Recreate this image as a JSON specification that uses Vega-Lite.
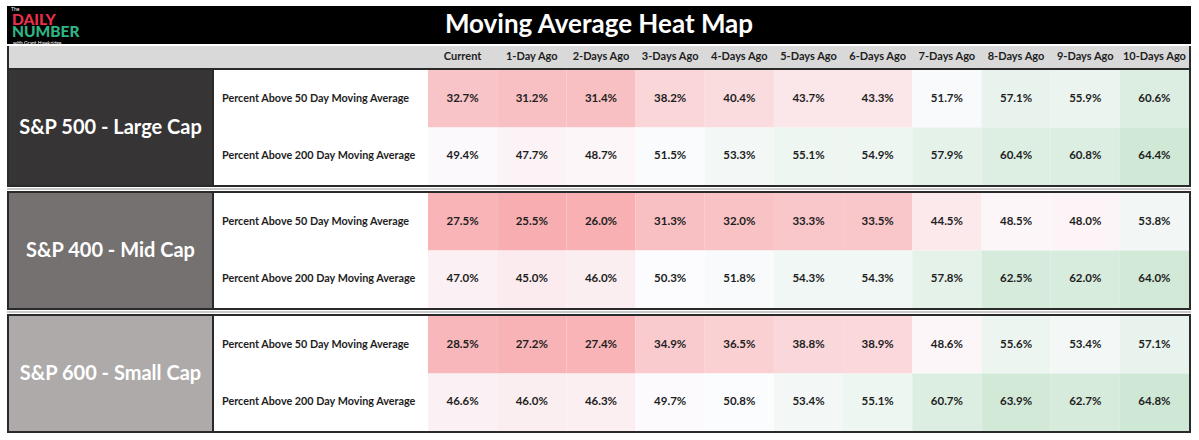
{
  "$schema": "https://vega.github.io/schema/vega-lite/v6.json",
  "padding": {"left": 7, "top": 6, "right": 8, "bottom": 6},
  "background": "white",
  "spacing": 0,
  "config": {"view": {"stroke": null}, "concat": {"spacing": 0}, "font": "Lato"},
  "datasets": {
    "blank": [{"k": 1}],
    "groups": [{"group": "S&P 500 - Large Cap"}, {"group": "S&P 400 - Mid Cap"}, {"group": "S&P 600 - Small Cap"}],
    "cells": [
      {"g": "S&P 500 - Large Cap", "m": "Percent Above 50 Day Moving Average", "p": "Current", "v": 0.327},
      {"g": "S&P 500 - Large Cap", "m": "Percent Above 50 Day Moving Average", "p": "1-Day Ago", "v": 0.312},
      {"g": "S&P 500 - Large Cap", "m": "Percent Above 50 Day Moving Average", "p": "2-Days Ago", "v": 0.314},
      {"g": "S&P 500 - Large Cap", "m": "Percent Above 50 Day Moving Average", "p": "3-Days Ago", "v": 0.382},
      {"g": "S&P 500 - Large Cap", "m": "Percent Above 50 Day Moving Average", "p": "4-Days Ago", "v": 0.404},
      {"g": "S&P 500 - Large Cap", "m": "Percent Above 50 Day Moving Average", "p": "5-Days Ago", "v": 0.437},
      {"g": "S&P 500 - Large Cap", "m": "Percent Above 50 Day Moving Average", "p": "6-Days Ago", "v": 0.433},
      {"g": "S&P 500 - Large Cap", "m": "Percent Above 50 Day Moving Average", "p": "7-Days Ago", "v": 0.517},
      {"g": "S&P 500 - Large Cap", "m": "Percent Above 50 Day Moving Average", "p": "8-Days Ago", "v": 0.571},
      {"g": "S&P 500 - Large Cap", "m": "Percent Above 50 Day Moving Average", "p": "9-Days Ago", "v": 0.559},
      {"g": "S&P 500 - Large Cap", "m": "Percent Above 50 Day Moving Average", "p": "10-Days Ago", "v": 0.606},
      {"g": "S&P 500 - Large Cap", "m": "Percent Above 200 Day Moving Average", "p": "Current", "v": 0.494},
      {"g": "S&P 500 - Large Cap", "m": "Percent Above 200 Day Moving Average", "p": "1-Day Ago", "v": 0.477},
      {"g": "S&P 500 - Large Cap", "m": "Percent Above 200 Day Moving Average", "p": "2-Days Ago", "v": 0.487},
      {"g": "S&P 500 - Large Cap", "m": "Percent Above 200 Day Moving Average", "p": "3-Days Ago", "v": 0.515},
      {"g": "S&P 500 - Large Cap", "m": "Percent Above 200 Day Moving Average", "p": "4-Days Ago", "v": 0.533},
      {"g": "S&P 500 - Large Cap", "m": "Percent Above 200 Day Moving Average", "p": "5-Days Ago", "v": 0.551},
      {"g": "S&P 500 - Large Cap", "m": "Percent Above 200 Day Moving Average", "p": "6-Days Ago", "v": 0.549},
      {"g": "S&P 500 - Large Cap", "m": "Percent Above 200 Day Moving Average", "p": "7-Days Ago", "v": 0.579},
      {"g": "S&P 500 - Large Cap", "m": "Percent Above 200 Day Moving Average", "p": "8-Days Ago", "v": 0.604},
      {"g": "S&P 500 - Large Cap", "m": "Percent Above 200 Day Moving Average", "p": "9-Days Ago", "v": 0.608},
      {"g": "S&P 500 - Large Cap", "m": "Percent Above 200 Day Moving Average", "p": "10-Days Ago", "v": 0.644},
      {"g": "S&P 400 - Mid Cap", "m": "Percent Above 50 Day Moving Average", "p": "Current", "v": 0.275},
      {"g": "S&P 400 - Mid Cap", "m": "Percent Above 50 Day Moving Average", "p": "1-Day Ago", "v": 0.255},
      {"g": "S&P 400 - Mid Cap", "m": "Percent Above 50 Day Moving Average", "p": "2-Days Ago", "v": 0.260},
      {"g": "S&P 400 - Mid Cap", "m": "Percent Above 50 Day Moving Average", "p": "3-Days Ago", "v": 0.313},
      {"g": "S&P 400 - Mid Cap", "m": "Percent Above 50 Day Moving Average", "p": "4-Days Ago", "v": 0.320},
      {"g": "S&P 400 - Mid Cap", "m": "Percent Above 50 Day Moving Average", "p": "5-Days Ago", "v": 0.333},
      {"g": "S&P 400 - Mid Cap", "m": "Percent Above 50 Day Moving Average", "p": "6-Days Ago", "v": 0.335},
      {"g": "S&P 400 - Mid Cap", "m": "Percent Above 50 Day Moving Average", "p": "7-Days Ago", "v": 0.445},
      {"g": "S&P 400 - Mid Cap", "m": "Percent Above 50 Day Moving Average", "p": "8-Days Ago", "v": 0.485},
      {"g": "S&P 400 - Mid Cap", "m": "Percent Above 50 Day Moving Average", "p": "9-Days Ago", "v": 0.480},
      {"g": "S&P 400 - Mid Cap", "m": "Percent Above 50 Day Moving Average", "p": "10-Days Ago", "v": 0.538},
      {"g": "S&P 400 - Mid Cap", "m": "Percent Above 200 Day Moving Average", "p": "Current", "v": 0.470},
      {"g": "S&P 400 - Mid Cap", "m": "Percent Above 200 Day Moving Average", "p": "1-Day Ago", "v": 0.450},
      {"g": "S&P 400 - Mid Cap", "m": "Percent Above 200 Day Moving Average", "p": "2-Days Ago", "v": 0.460},
      {"g": "S&P 400 - Mid Cap", "m": "Percent Above 200 Day Moving Average", "p": "3-Days Ago", "v": 0.503},
      {"g": "S&P 400 - Mid Cap", "m": "Percent Above 200 Day Moving Average", "p": "4-Days Ago", "v": 0.518},
      {"g": "S&P 400 - Mid Cap", "m": "Percent Above 200 Day Moving Average", "p": "5-Days Ago", "v": 0.543},
      {"g": "S&P 400 - Mid Cap", "m": "Percent Above 200 Day Moving Average", "p": "6-Days Ago", "v": 0.543},
      {"g": "S&P 400 - Mid Cap", "m": "Percent Above 200 Day Moving Average", "p": "7-Days Ago", "v": 0.578},
      {"g": "S&P 400 - Mid Cap", "m": "Percent Above 200 Day Moving Average", "p": "8-Days Ago", "v": 0.625},
      {"g": "S&P 400 - Mid Cap", "m": "Percent Above 200 Day Moving Average", "p": "9-Days Ago", "v": 0.620},
      {"g": "S&P 400 - Mid Cap", "m": "Percent Above 200 Day Moving Average", "p": "10-Days Ago", "v": 0.640},
      {"g": "S&P 600 - Small Cap", "m": "Percent Above 50 Day Moving Average", "p": "Current", "v": 0.285},
      {"g": "S&P 600 - Small Cap", "m": "Percent Above 50 Day Moving Average", "p": "1-Day Ago", "v": 0.272},
      {"g": "S&P 600 - Small Cap", "m": "Percent Above 50 Day Moving Average", "p": "2-Days Ago", "v": 0.274},
      {"g": "S&P 600 - Small Cap", "m": "Percent Above 50 Day Moving Average", "p": "3-Days Ago", "v": 0.349},
      {"g": "S&P 600 - Small Cap", "m": "Percent Above 50 Day Moving Average", "p": "4-Days Ago", "v": 0.365},
      {"g": "S&P 600 - Small Cap", "m": "Percent Above 50 Day Moving Average", "p": "5-Days Ago", "v": 0.388},
      {"g": "S&P 600 - Small Cap", "m": "Percent Above 50 Day Moving Average", "p": "6-Days Ago", "v": 0.389},
      {"g": "S&P 600 - Small Cap", "m": "Percent Above 50 Day Moving Average", "p": "7-Days Ago", "v": 0.486},
      {"g": "S&P 600 - Small Cap", "m": "Percent Above 50 Day Moving Average", "p": "8-Days Ago", "v": 0.556},
      {"g": "S&P 600 - Small Cap", "m": "Percent Above 50 Day Moving Average", "p": "9-Days Ago", "v": 0.534},
      {"g": "S&P 600 - Small Cap", "m": "Percent Above 50 Day Moving Average", "p": "10-Days Ago", "v": 0.571},
      {"g": "S&P 600 - Small Cap", "m": "Percent Above 200 Day Moving Average", "p": "Current", "v": 0.466},
      {"g": "S&P 600 - Small Cap", "m": "Percent Above 200 Day Moving Average", "p": "1-Day Ago", "v": 0.460},
      {"g": "S&P 600 - Small Cap", "m": "Percent Above 200 Day Moving Average", "p": "2-Days Ago", "v": 0.463},
      {"g": "S&P 600 - Small Cap", "m": "Percent Above 200 Day Moving Average", "p": "3-Days Ago", "v": 0.497},
      {"g": "S&P 600 - Small Cap", "m": "Percent Above 200 Day Moving Average", "p": "4-Days Ago", "v": 0.508},
      {"g": "S&P 600 - Small Cap", "m": "Percent Above 200 Day Moving Average", "p": "5-Days Ago", "v": 0.534},
      {"g": "S&P 600 - Small Cap", "m": "Percent Above 200 Day Moving Average", "p": "6-Days Ago", "v": 0.551},
      {"g": "S&P 600 - Small Cap", "m": "Percent Above 200 Day Moving Average", "p": "7-Days Ago", "v": 0.607},
      {"g": "S&P 600 - Small Cap", "m": "Percent Above 200 Day Moving Average", "p": "8-Days Ago", "v": 0.639},
      {"g": "S&P 600 - Small Cap", "m": "Percent Above 200 Day Moving Average", "p": "9-Days Ago", "v": 0.627},
      {"g": "S&P 600 - Small Cap", "m": "Percent Above 200 Day Moving Average", "p": "10-Days Ago", "v": 0.648}
    ]
  },
  "data": {"name": "blank"},
  "vconcat": [
    {
      "hconcat": [
        {
          "width": 90, "height": 38,
          "view": {"fill": "black"},
          "data": {"values": [{"w": "The"}, {"w": "DAILY"}, {"w": "NUMBER"}, {"w": "with Grant Hawkridge"}]},
          "encoding": {
            "y": {"field": "w", "type": "nominal", "scale": {"type": "point", "domain": ["The", "DAILY", "NUMBER", "with Grant Hawkridge"], "padding": 0.2}, "axis": null},
            "text": {"field": "w", "type": "nominal"}
          },
          "layer": [
            {"transform": [{"filter": "datum.w === 'The'"}], "mark": {"type": "text", "align": "left", "dx": -41, "dy": 0.8, "fontSize": 5, "color": "white"}},
            {"transform": [{"filter": "datum.w === 'DAILY'"}], "mark": {"type": "text", "align": "left", "dx": -40, "dy": 0.5, "fontSize": 15.5, "fontWeight": 900, "color": "#e8304e"}},
            {"transform": [{"filter": "datum.w === 'NUMBER'"}], "mark": {"type": "text", "align": "left", "dx": -40, "dy": 1, "fontSize": 15.5, "fontWeight": 900, "color": "#2fb585"}},
            {"transform": [{"filter": "datum.w === 'with Grant Hawkridge'"}], "mark": {"type": "text", "align": "left", "dx": -39, "dy": 1, "fontSize": 5, "color": "white"}}
          ]
        },
        {
          "width": 1004, "height": 38,
          "view": {"fill": "black"},
          "data": {"values": [{"t": "Moving Average Heat Map"}]},
          "mark": {"type": "text", "fontSize": 26, "fontWeight": "bold", "color": "white"},
          "encoding": {"text": {"field": "t", "type": "nominal"}}
        },
        {"width": 90, "height": 38, "view": {"fill": "black"}, "mark": {"type": "text", "text": "", "fontSize": 0}, "encoding": {}}
      ],
      "spacing": 0, "bounds": "flush"
    },
    {
      "hconcat": [
        {"width": 2, "height": 22, "view": {"fill": "#2a2a2a"}, "mark": {"type": "text", "text": "", "fontSize": 0}, "encoding": {}},
        {"width": 419, "height": 22, "view": {"fill": "#d9d9d9"}, "mark": {"type": "text", "text": "", "fontSize": 0}, "encoding": {}},
        {
          "width": 761, "height": 22,
          "view": {"fill": "#d9d9d9"},
          "data": {"name": "cells"},
          "transform": [{"filter": "datum.g === 'S&P 500 - Large Cap' && datum.m === 'Percent Above 50 Day Moving Average'"}],
          "mark": {"type": "text", "fontSize": 11, "fontWeight": "bold", "color": "#1e1e1e"},
          "encoding": {
            "x": {"field": "p", "type": "nominal", "scale": {"domain": ["Current", "1-Day Ago", "2-Days Ago", "3-Days Ago", "4-Days Ago", "5-Days Ago", "6-Days Ago", "7-Days Ago", "8-Days Ago", "9-Days Ago", "10-Days Ago"], "paddingInner": 0, "paddingOuter": 0}, "axis": null},
            "text": {"field": "p", "type": "nominal"}
          }
        },
        {"width": 2, "height": 22, "view": {"fill": "#2a2a2a"}, "mark": {"type": "text", "text": "", "fontSize": 0}, "encoding": {}}
      ],
      "spacing": 0, "bounds": "flush"
    },
    {"width": 1184, "height": 2, "view": {"fill": "#2a2a2a"}, "mark": {"type": "text", "text": "", "fontSize": 0}, "encoding": {}},
    {
      "hconcat": [
        {"width": 2, "height": 115, "view": {"fill": "#2a2a2a"}, "mark": {"type": "text", "text": "", "fontSize": 0}, "encoding": {}},
        {
          "width": 203, "height": 115,
          "view": {"fill": "#363435"},
          "data": {"name": "groups"},
          "transform": [{"filter": "datum.group === 'S&P 500 - Large Cap'"}],
          "mark": {"type": "text", "fontSize": 20, "fontWeight": "bold", "color": "white"},
          "encoding": {"text": {"field": "group", "type": "nominal"}}
        },
        {"width": 2, "height": 115, "view": {"fill": "#2a2a2a"}, "mark": {"type": "text", "text": "", "fontSize": 0}, "encoding": {}},
        {
          "width": 214, "height": 115,
          "data": {"name": "cells"},
          "transform": [{"filter": "datum.g === 'S&P 500 - Large Cap' && datum.p === 'Current'"}],
          "mark": {"type": "text", "align": "left", "dx": -99, "fontSize": 10.8, "fontWeight": "bold", "color": "#1e1e1e"},
          "encoding": {
            "y": {"field": "m", "type": "nominal", "scale": {"type": "band", "domain": ["Percent Above 50 Day Moving Average", "Percent Above 200 Day Moving Average"], "paddingInner": 0, "paddingOuter": 0}, "axis": null},
            "text": {"field": "m", "type": "nominal"}
          }
        },
        {
          "width": 761, "height": 115,
          "data": {"name": "cells"},
          "transform": [{"filter": "datum.g === 'S&P 500 - Large Cap'"}],
          "encoding": {
            "x": {"field": "p", "type": "nominal", "scale": {"domain": ["Current", "1-Day Ago", "2-Days Ago", "3-Days Ago", "4-Days Ago", "5-Days Ago", "6-Days Ago", "7-Days Ago", "8-Days Ago", "9-Days Ago", "10-Days Ago"], "paddingInner": 0, "paddingOuter": 0}, "axis": null},
            "y": {"field": "m", "type": "nominal", "scale": {"domain": ["Percent Above 50 Day Moving Average", "Percent Above 200 Day Moving Average"], "paddingInner": 0, "paddingOuter": 0}, "axis": null}
          },
          "layer": [
            {"mark": {"type": "rect"}, "encoding": {"color": {"field": "v", "type": "quantitative", "scale": {"domain": [0.255, 0.505, 0.648], "range": ["#f8aeb1", "#fcfcff", "#cfe8d5"], "interpolate": "rgb", "clamp": true}, "legend": null}}},
            {"mark": {"type": "text", "fontSize": 11.5, "fontWeight": "bold", "color": "#1e1e1e"}, "encoding": {"text": {"field": "v", "type": "quantitative", "format": ".1%"}}}
          ]
        },
        {"width": 2, "height": 115, "view": {"fill": "#2a2a2a"}, "mark": {"type": "text", "text": "", "fontSize": 0}, "encoding": {}}
      ],
      "spacing": 0, "bounds": "flush"
    },
    {"width": 1184, "height": 2, "view": {"fill": "#2a2a2a"}, "mark": {"type": "text", "text": "", "fontSize": 0}, "encoding": {}},
    {"width": 1184, "height": 1, "mark": {"type": "text", "text": "", "fontSize": 0}, "encoding": {}},
    {"width": 1184, "height": 2, "view": {"fill": "#c8c8c8"}, "mark": {"type": "text", "text": "", "fontSize": 0}, "encoding": {}},
    {"width": 1184, "height": 1, "mark": {"type": "text", "text": "", "fontSize": 0}, "encoding": {}},
    {"width": 1184, "height": 2, "view": {"fill": "#2a2a2a"}, "mark": {"type": "text", "text": "", "fontSize": 0}, "encoding": {}},
    {
      "hconcat": [
        {"width": 2, "height": 115, "view": {"fill": "#2a2a2a"}, "mark": {"type": "text", "text": "", "fontSize": 0}, "encoding": {}},
        {
          "width": 203, "height": 115,
          "view": {"fill": "#767171"},
          "data": {"name": "groups"},
          "transform": [{"filter": "datum.group === 'S&P 400 - Mid Cap'"}],
          "mark": {"type": "text", "fontSize": 20, "fontWeight": "bold", "color": "white"},
          "encoding": {"text": {"field": "group", "type": "nominal"}}
        },
        {"width": 2, "height": 115, "view": {"fill": "#2a2a2a"}, "mark": {"type": "text", "text": "", "fontSize": 0}, "encoding": {}},
        {
          "width": 214, "height": 115,
          "data": {"name": "cells"},
          "transform": [{"filter": "datum.g === 'S&P 400 - Mid Cap' && datum.p === 'Current'"}],
          "mark": {"type": "text", "align": "left", "dx": -99, "fontSize": 10.8, "fontWeight": "bold", "color": "#1e1e1e"},
          "encoding": {
            "y": {"field": "m", "type": "nominal", "scale": {"type": "band", "domain": ["Percent Above 50 Day Moving Average", "Percent Above 200 Day Moving Average"], "paddingInner": 0, "paddingOuter": 0}, "axis": null},
            "text": {"field": "m", "type": "nominal"}
          }
        },
        {
          "width": 761, "height": 115,
          "data": {"name": "cells"},
          "transform": [{"filter": "datum.g === 'S&P 400 - Mid Cap'"}],
          "encoding": {
            "x": {"field": "p", "type": "nominal", "scale": {"domain": ["Current", "1-Day Ago", "2-Days Ago", "3-Days Ago", "4-Days Ago", "5-Days Ago", "6-Days Ago", "7-Days Ago", "8-Days Ago", "9-Days Ago", "10-Days Ago"], "paddingInner": 0, "paddingOuter": 0}, "axis": null},
            "y": {"field": "m", "type": "nominal", "scale": {"domain": ["Percent Above 50 Day Moving Average", "Percent Above 200 Day Moving Average"], "paddingInner": 0, "paddingOuter": 0}, "axis": null}
          },
          "layer": [
            {"mark": {"type": "rect"}, "encoding": {"color": {"field": "v", "type": "quantitative", "scale": {"domain": [0.255, 0.505, 0.648], "range": ["#f8aeb1", "#fcfcff", "#cfe8d5"], "interpolate": "rgb", "clamp": true}, "legend": null}}},
            {"mark": {"type": "text", "fontSize": 11.5, "fontWeight": "bold", "color": "#1e1e1e"}, "encoding": {"text": {"field": "v", "type": "quantitative", "format": ".1%"}}}
          ]
        },
        {"width": 2, "height": 115, "view": {"fill": "#2a2a2a"}, "mark": {"type": "text", "text": "", "fontSize": 0}, "encoding": {}}
      ],
      "spacing": 0, "bounds": "flush"
    },
    {"width": 1184, "height": 2, "view": {"fill": "#2a2a2a"}, "mark": {"type": "text", "text": "", "fontSize": 0}, "encoding": {}},
    {"width": 1184, "height": 1, "mark": {"type": "text", "text": "", "fontSize": 0}, "encoding": {}},
    {"width": 1184, "height": 2, "view": {"fill": "#c8c8c8"}, "mark": {"type": "text", "text": "", "fontSize": 0}, "encoding": {}},
    {"width": 1184, "height": 1, "mark": {"type": "text", "text": "", "fontSize": 0}, "encoding": {}},
    {"width": 1184, "height": 2, "view": {"fill": "#2a2a2a"}, "mark": {"type": "text", "text": "", "fontSize": 0}, "encoding": {}},
    {
      "hconcat": [
        {"width": 2, "height": 115, "view": {"fill": "#2a2a2a"}, "mark": {"type": "text", "text": "", "fontSize": 0}, "encoding": {}},
        {
          "width": 203, "height": 115,
          "view": {"fill": "#aeaaaa"},
          "data": {"name": "groups"},
          "transform": [{"filter": "datum.group === 'S&P 600 - Small Cap'"}],
          "mark": {"type": "text", "fontSize": 20, "fontWeight": "bold", "color": "white"},
          "encoding": {"text": {"field": "group", "type": "nominal"}}
        },
        {"width": 2, "height": 115, "view": {"fill": "#2a2a2a"}, "mark": {"type": "text", "text": "", "fontSize": 0}, "encoding": {}},
        {
          "width": 214, "height": 115,
          "data": {"name": "cells"},
          "transform": [{"filter": "datum.g === 'S&P 600 - Small Cap' && datum.p === 'Current'"}],
          "mark": {"type": "text", "align": "left", "dx": -99, "fontSize": 10.8, "fontWeight": "bold", "color": "#1e1e1e"},
          "encoding": {
            "y": {"field": "m", "type": "nominal", "scale": {"type": "band", "domain": ["Percent Above 50 Day Moving Average", "Percent Above 200 Day Moving Average"], "paddingInner": 0, "paddingOuter": 0}, "axis": null},
            "text": {"field": "m", "type": "nominal"}
          }
        },
        {
          "width": 761, "height": 115,
          "data": {"name": "cells"},
          "transform": [{"filter": "datum.g === 'S&P 600 - Small Cap'"}],
          "encoding": {
            "x": {"field": "p", "type": "nominal", "scale": {"domain": ["Current", "1-Day Ago", "2-Days Ago", "3-Days Ago", "4-Days Ago", "5-Days Ago", "6-Days Ago", "7-Days Ago", "8-Days Ago", "9-Days Ago", "10-Days Ago"], "paddingInner": 0, "paddingOuter": 0}, "axis": null},
            "y": {"field": "m", "type": "nominal", "scale": {"domain": ["Percent Above 50 Day Moving Average", "Percent Above 200 Day Moving Average"], "paddingInner": 0, "paddingOuter": 0}, "axis": null}
          },
          "layer": [
            {"mark": {"type": "rect"}, "encoding": {"color": {"field": "v", "type": "quantitative", "scale": {"domain": [0.255, 0.505, 0.648], "range": ["#f8aeb1", "#fcfcff", "#cfe8d5"], "interpolate": "rgb", "clamp": true}, "legend": null}}},
            {"mark": {"type": "text", "fontSize": 11.5, "fontWeight": "bold", "color": "#1e1e1e"}, "encoding": {"text": {"field": "v", "type": "quantitative", "format": ".1%"}}}
          ]
        },
        {"width": 2, "height": 115, "view": {"fill": "#2a2a2a"}, "mark": {"type": "text", "text": "", "fontSize": 0}, "encoding": {}}
      ],
      "spacing": 0, "bounds": "flush"
    },
    {"width": 1184, "height": 2, "view": {"fill": "#2a2a2a"}, "mark": {"type": "text", "text": "", "fontSize": 0}, "encoding": {}}
  ]
}
